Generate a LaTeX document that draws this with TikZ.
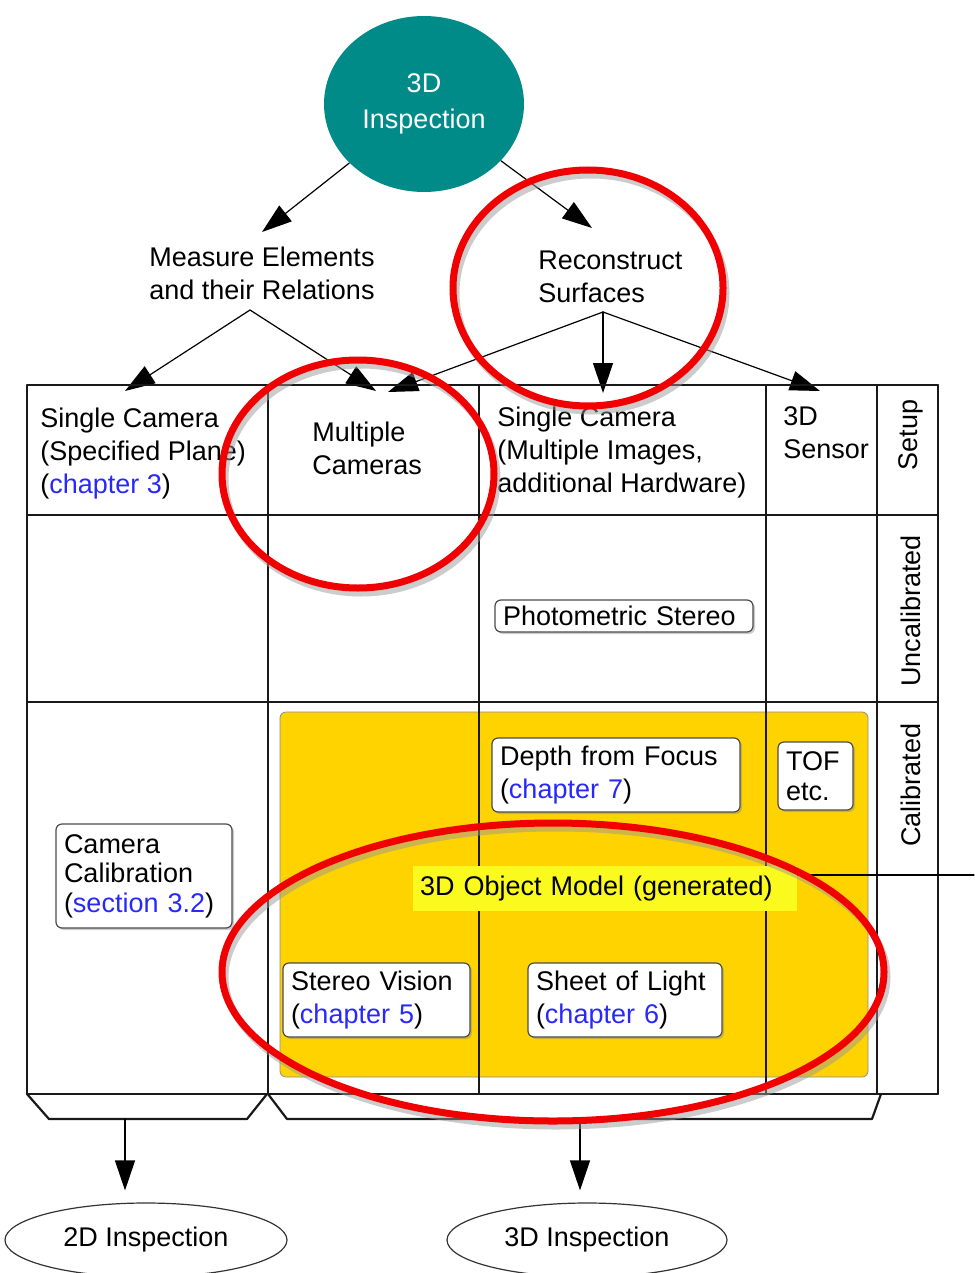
\documentclass[tikz,border=0pt]{standalone}
\usepackage{fontspec}
\setmainfont{Liberation Sans}
\usetikzlibrary{arrows.meta,shapes.geometric,shadows}
\definecolor{tealball}{RGB}{0,139,137}
\definecolor{calyellow}{RGB}{255,211,0}
\definecolor{hilite}{RGB}{250,250,30}
\definecolor{chapblue}{RGB}{40,40,250}
\definecolor{ringred}{RGB}{240,0,0}
\newcommand{\chap}[1]{\textcolor{chapblue}{#1}}

\begin{document}
\begin{tikzpicture}[x=0.5pt,y=-0.5pt,line cap=round,line join=round,
  txt/.style={font=\fontsize{13.5}{16.5}\selectfont,inner sep=0pt,align=left},
  box/.style={txt,draw=black!70,fill=white,rounded corners=3pt,line width=0.6pt,
    inner xsep=4pt,drop shadow={shadow xshift=1pt,shadow yshift=-1pt,opacity=0.4}},
  grid/.style={line width=0.8pt,black!90},
  arr/.style={line width=0.6pt,-{Triangle[length=15pt,width=10pt]}},
  ring/.style={line width=3.5pt,ringred},
  ringshade/.style={line width=3.5pt,black!40,opacity=0.5}]
  \useasboundingbox (0,0) rectangle (974,1273);

  % top of the tree
  \node[ellipse,fill=tealball,minimum width=100pt,minimum height=88pt,txt,align=center,
    text=white,font=\fontsize{13.5}{18}\selectfont] (insp) at (424,104) {3D\\Inspection};
  \node[txt,align=center,anchor=north] (meas) at (262,247) {Measure Elements\\and their Relations};
  \node[txt,anchor=north west] (recon) at (538,251) {Reconstruct\\Surfaces};
  \coordinate (mtip) at (262,232);
  \coordinate (rtip) at (592,228);
  \draw[arr] (insp) -- (mtip);
  \draw[arr] (insp) -- (rtip);

  % forks down to the columns
  \coordinate (mfork) at (250,310);
  \coordinate (rfork) at (603,312);
  \coordinate (t1) at (125,391);
  \coordinate (t2a) at (376,391);
  \coordinate (t2b) at (388,392);
  \coordinate (t3) at (603,393);
  \coordinate (t4) at (820,391);
  \draw[arr] (mfork) -- (t1);
  \draw[arr] (mfork) -- (t2a);
  \draw[arr] (rfork) -- (t2b);
  \draw[arr] (rfork) -- (t3);
  \draw[arr] (rfork) -- (t4);

  % calibrated area
  \draw[fill=calyellow,draw=black!45,line width=0.4pt,rounded corners=3pt] (280,712) rectangle (868,1077);

  % table
  \foreach \y in {385,515,702,1094}
    \draw[grid] (27,\y) -- (938,\y);
  \foreach \x in {27,268,479,766,877,938}
    \draw[grid] (\x,385) -- (\x,1094);
  \draw[grid,line width=1.1pt] (27,1094) -- (49,1119) -- (247,1119) -- (267,1094);
  \draw[grid,line width=1.1pt] (268,1094) -- (287,1119) -- (872,1119) -- (881,1094);

  % headers
  \node[txt,anchor=north west] (hplane) at (40,408) {Single Camera\\(Specified Plane)\\(\chap{chapter 3})};
  \node[txt,anchor=north west] (hmulti) at (312,422) {Multiple\\Cameras};
  \node[txt,anchor=north west] (himages) at (497,407) {Single Camera\\(Multiple Images,\\additional Hardware)};
  \node[txt,anchor=north west] (hsensor) at (783,406) {3D\\Sensor};
  \node[txt,rotate=90] (lsetup) at (911,435) {Setup};
  \node[txt,rotate=90] (luncal) at (911,611) {Uncalibrated};
  \node[txt,rotate=90] (lcal) at (911,785) {Calibrated};

  % methods
  \node[box,minimum width=129pt,text width=121pt,minimum height=16pt] (photo) at (624,616) {Photometric~Stereo};
  \node[box,minimum width=124pt,text width=116pt,minimum height=37pt] (depth) at (616,775) {Depth~from~Focus\\(\chap{chapter~7})};
  \node[box,minimum width=37.5pt,text width=29.5pt,minimum height=34pt,font=\fontsize{13.5}{15}\selectfont] (tof) at (815.5,776) {TOF\\etc.};
  \node[box,minimum width=88pt,text width=80pt,minimum height=52pt,font=\fontsize{13.5}{14.75}\selectfont] (calib) at (144,876) {Camera\\Calibration\\(\chap{section~3.2})};
  \node[box,minimum width=93.5pt,text width=85.5pt,minimum height=37pt] (stereo) at (376.5,1000) {Stereo~Vision\\(\chap{chapter~5})};
  \node[box,minimum width=97pt,text width=89pt,minimum height=37pt] (sheet) at (625,1000) {Sheet~of~Light\\(\chap{chapter~6})};
  \node[txt,fill=hilite,inner xsep=3.5pt,text width=185pt,minimum height=22.5pt] (hl) at (605,888.5) {3D~Object~Model~(generated)};
  \coordinate (offr) at (974,875);
  \draw[line width=0.6pt] (offr -| hl.east) -- (offr);

  % results
  \node[ellipse,draw=black!80,line width=0.6pt,minimum width=141pt,minimum height=37pt,txt] (out2d) at (146,1240) {2D Inspection};
  \node[ellipse,draw=black!80,line width=0.6pt,minimum width=140pt,minimum height=37pt,txt] (out3d) at (587,1240) {3D Inspection};
  \coordinate (b2d) at (125,1119);
  \coordinate (b3d) at (580,1119);
  \draw[arr,shorten >=6pt] (b2d) -- (b2d |- out2d.north);
  \draw[arr,shorten >=6pt] (b3d) -- (b3d |- out3d.north);

  % red marks
  \foreach \cx/\cy/\rx/\ry in {588/288/135/118,358/474/136/114,553/972/331/149} {
    \draw[ringshade] (\cx+3,\cy+5) ellipse [x radius=\rx,y radius=\ry];
    \draw[ring] (\cx,\cy) ellipse [x radius=\rx,y radius=\ry];
  }
\end{tikzpicture}
\end{document}
